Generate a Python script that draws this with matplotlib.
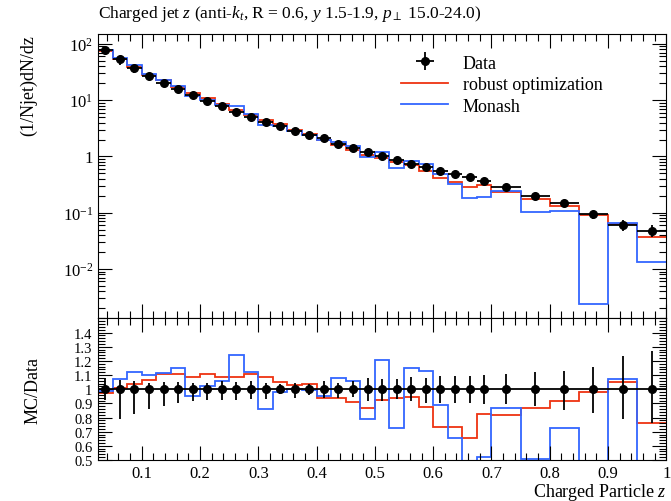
import numpy as np
import matplotlib
matplotlib.use('Agg')
import matplotlib.pyplot as plt
from matplotlib.ticker import MultipleLocator, LogLocator, FixedLocator, FuncFormatter, NullFormatter

plt.rcParams['font.family'] = ['Liberation Serif', 'DejaVu Serif']
plt.rcParams['mathtext.fontset'] = 'custom'
plt.rcParams['mathtext.rm'] = 'Liberation Serif'
plt.rcParams['mathtext.it'] = 'Liberation Serif:italic'

# bin edges in z
edges = np.array([0.025, 0.05, 0.075, 0.1, 0.125, 0.15, 0.175, 0.2, 0.225, 0.25,
                  0.275, 0.3, 0.325, 0.35, 0.375, 0.4, 0.425, 0.45, 0.475, 0.5,
                  0.525, 0.55, 0.575, 0.6, 0.625, 0.65, 0.675, 0.7,
                  0.75, 0.8, 0.85, 0.9, 0.95, 1.0])

data = np.array([78, 53.5, 37.6, 26.7, 20.4, 15.7, 12.3, 9.75, 7.73, 6.22,
                 4.99, 4.13, 3.51, 2.86, 2.39, 2.09, 1.68, 1.43, 1.21, 1.0,
                 0.86, 0.73, 0.64, 0.557, 0.485, 0.43, 0.37,
                 0.281, 0.20, 0.146, 0.093, 0.060, 0.048])
# relative uncertainties (up / down)
data_up = np.array([0.076, 0.064, 0.059, 0.047, 0.052, 0.054, 0.047, 0.043, 0.059, 0.052,
                    0.059, 0.047, 0.035, 0.043, 0.035, 0.059, 0.047, 0.059, 0.076, 0.071,
                    0.071, 0.083, 0.076, 0.090, 0.090, 0.095, 0.100,
                    0.106, 0.123, 0.130, 0.158, 0.232, 0.267])
data_dn = np.array([0.076, 0.21, 0.177, 0.142, 0.118, 0.095, 0.083, 0.075, 0.075, 0.078,
                    0.071, 0.071, 0.035, 0.059, 0.043, 0.059, 0.059, 0.052, 0.083, 0.083,
                    0.071, 0.083, 0.095, 0.095, 0.095, 0.095, 0.107,
                    0.106, 0.118, 0.147, 0.165, 0.208, 0.241])

robust = np.array([76.1, 54.0, 38.9, 28.4, 22.6, 17.4, 13.4, 10.8, 8.38, 6.74,
                   5.52, 4.48, 3.70, 2.94, 2.47, 1.96, 1.57, 1.30, 1.05, 0.922,
                   0.809, 0.692, 0.561, 0.408, 0.356, 0.283, 0.305,
                   0.229, 0.173, 0.134, 0.0912, 0.0631, 0.0367])
monash = np.array([77.2, 57.3, 42.3, 29.4, 22.8, 18.0, 11.7, 10.0, 8.19, 7.72,
                   5.58, 3.56, 3.44, 2.87, 2.37, 1.99, 1.81, 1.51, 0.958, 1.21,
                   0.626, 0.842, 0.723, 0.494, 0.319, 0.181, 0.192,
                   0.243, 0.101, 0.106, 0.00238, 0.0645, 0.0135])

red = '#EE3311'
blue = '#3366FF'

centers = (edges[1:] + edges[:-1]) / 2
halfw = np.diff(edges) / 2

fig = plt.figure(figsize=(6.71, 5.02), dpi=100)
ax = fig.add_axes([0.146, 0.3636, 0.8471, 0.5667])
rax = fig.add_axes([0.146, 0.0817, 0.8471, 0.2819], sharex=ax)

# main panel
ax.stairs(robust, edges, baseline=None, color=red, lw=1.3, label='robust optimization')
ax.stairs(monash, edges, baseline=None, color=blue, lw=1.3, label='Monash')
ax.errorbar(centers, data, yerr=[data * data_dn, data * data_up], xerr=halfw,
            fmt='o', color='k', ms=5.5, lw=1.3, capsize=0, zorder=5, label='Data')
ax.set_yscale('log')
ax.set_ylim(1.32e-3, 150)
ax.set_xlim(0.025, 1.0)

h, l = ax.get_legend_handles_labels()
order = [l.index('Data'), l.index('robust optimization'), l.index('Monash')]
ax.legend([h[i] for i in order], [l[i] for i in order], loc='upper left',
          bbox_to_anchor=(0.505, 0.985), frameon=False, fontsize=13,
          handlelength=2.6, handletextpad=0.8, labelspacing=0.25)

def logfmt(v, pos):
    e = int(round(np.log10(v)))
    if e == 0:
        return '1'
    return r'$10^{%d}$' % e

ax.yaxis.set_major_locator(LogLocator(base=10, numticks=12))
ax.yaxis.set_minor_locator(LogLocator(base=10, subs=np.arange(2, 10), numticks=12))
ax.yaxis.set_major_formatter(FuncFormatter(logfmt))
ax.yaxis.set_minor_formatter(NullFormatter())
ax.set_ylabel('(1/Njet)dN/dz', fontsize=13, loc='top')
ax.yaxis.set_label_coords(-0.107, 1.0)
ax.tick_params(labelbottom=False)

# ratio panel
rax.stairs(robust / data, edges, baseline=None, color=red, lw=1.3)
rax.stairs(monash / data, edges, baseline=None, color=blue, lw=1.3)
rax.errorbar(centers, np.ones_like(data), yerr=[data_dn, data_up], xerr=halfw,
             fmt='o', color='k', ms=5.5, lw=1.3, capsize=0, zorder=5)
rax.set_ylim(0.5, 1.5)
rax.yaxis.set_major_locator(FixedLocator([0.5, 0.6, 0.7, 0.8, 0.9, 1.0, 1.1, 1.2, 1.3, 1.4]))
rax.yaxis.set_minor_locator(MultipleLocator(0.02))
rax.yaxis.set_major_formatter(FuncFormatter(lambda v, p: '%g' % round(v, 2)))
rax.set_ylabel('MC/Data', fontsize=13)
rax.yaxis.set_label_coords(-0.099, 0.5)

rax.xaxis.set_major_locator(MultipleLocator(0.1))
rax.xaxis.set_minor_locator(MultipleLocator(0.02))
rax.xaxis.set_major_formatter(FuncFormatter(lambda v, p: '%g' % round(v, 2)))
rax.set_xlabel('Charged Particle $z$', fontsize=13, loc='right')
rax.xaxis.set_label_coords(1.0, -0.145)

for a in (ax, rax):
    a.tick_params(which='both', direction='in', top=True, right=True, labelsize=12, width=0.8)
    a.tick_params(which='major', length=10)
    a.tick_params(which='minor', length=5)
rax.tick_params(axis='y', labelsize=10.5, pad=4)

fig.text(0.146, 1 - 14 / 502, r'Charged jet $z$ (anti-$k_t$, R = 0.6, $y$ 1.5-1.9, $p_\perp$ 15.0-24.0)',
         ha='left', va='center', fontsize=12.5)

fig.savefig('out.png', dpi=100)
